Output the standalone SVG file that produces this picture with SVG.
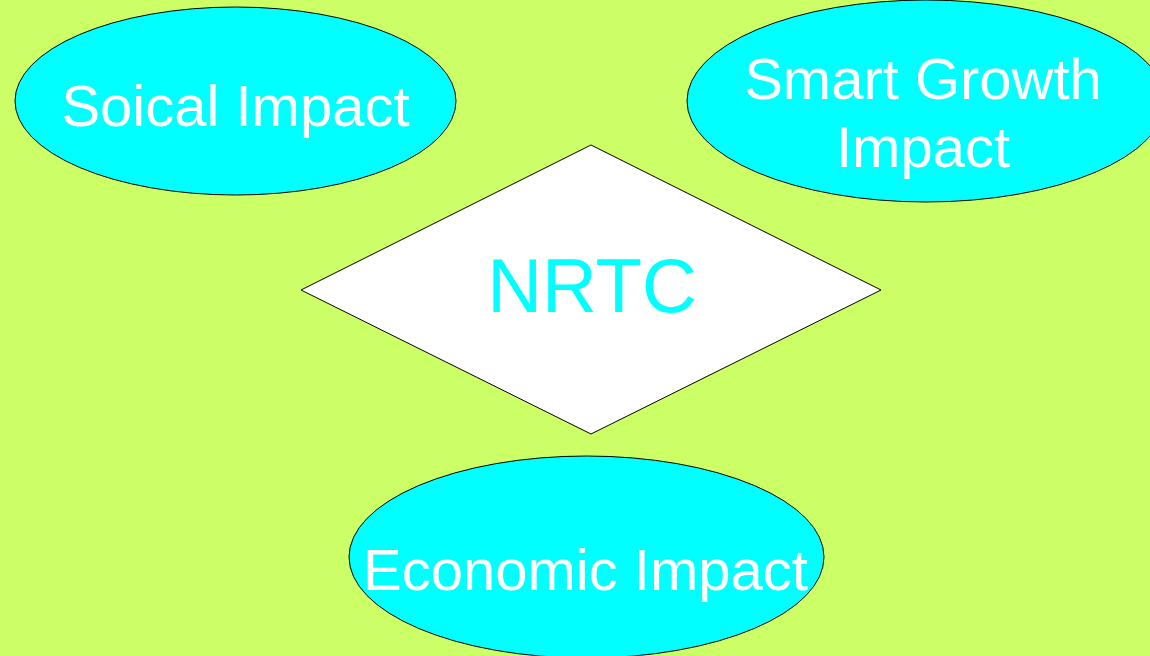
<svg xmlns="http://www.w3.org/2000/svg" width="1150" height="656" viewBox="0 0 1150 656">
<style>
.bubble{fill:#00FFFF;stroke:#000;stroke-width:1}
.lbl{font-family:"Liberation Sans",Arial,sans-serif;font-size:58px;fill:#FFFFFF;text-anchor:middle}
.hub{fill:#FFFFFF;stroke:#000;stroke-width:1}
.hublbl{font-family:"Liberation Sans",Arial,sans-serif;font-size:76px;fill:#00FFFF;text-anchor:middle}
</style>
<rect width="1150" height="656" fill="#CCFF66"/>
<g id="connectors"></g>
<g id="social">
<ellipse class="bubble" cx="235.5" cy="101" rx="220.5" ry="94"/>
<text class="lbl" x="235.5" y="126">Soical Impact</text>
</g>
<g id="smart-growth">
<ellipse class="bubble" cx="926" cy="101" rx="239" ry="101"/>
<text class="lbl" x="923" y="99">Smart Growth</text>
<text class="lbl" x="923" y="167">Impact</text>
</g>
<g id="nrtc">
<polygon class="hub" points="591,145 881,290 591,434 301,290"/>
<text class="hublbl" x="592" y="312">NRTC</text>
</g>
<g id="economic">
<ellipse class="bubble" cx="586.5" cy="557" rx="237.5" ry="101"/>
<text class="lbl" x="585.5" y="590">Economic Impact</text>
</g>
</svg>
